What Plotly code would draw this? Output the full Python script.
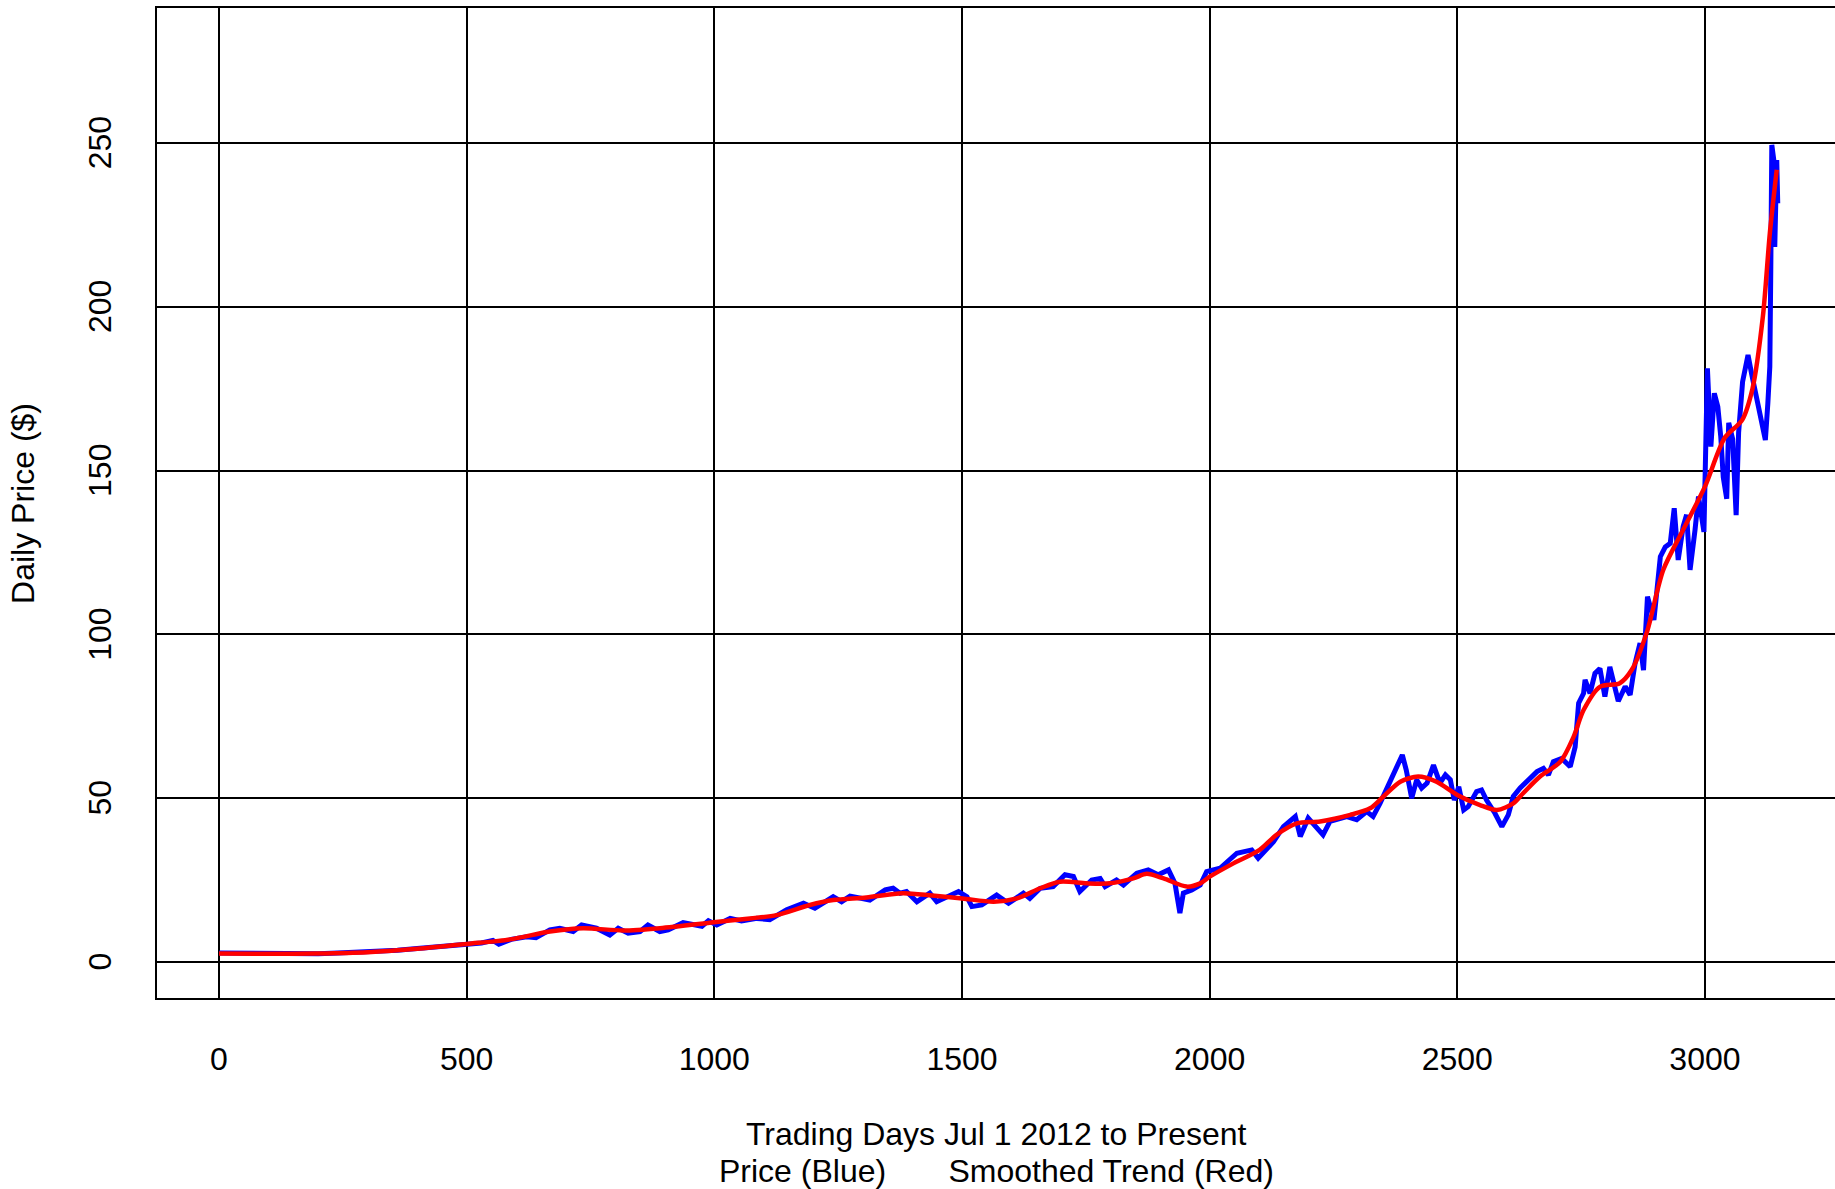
import plotly.graph_objects as go

# Daily closing price, trading day index since Jul 1 2012
price_day = [
    0, 40, 80, 120, 160, 200, 240, 280, 320, 360, 400, 440, 480, 500, 530, 553, 565, 590, 621, 640,
    668, 688, 715, 732, 762, 789, 806, 826, 850, 866, 890, 907, 937, 975, 988, 1005, 1032, 1055, 1086, 1112,
    1146, 1180, 1203, 1240, 1257, 1274, 1314, 1345, 1361, 1375, 1388, 1409, 1435, 1449, 1469, 1493, 1510, 1520, 1540, 1570,
    1594, 1624, 1637, 1658, 1684, 1708, 1725, 1738, 1762, 1779, 1789, 1812, 1826, 1853, 1876, 1896, 1917, 1930, 1940, 1947,
    1964, 1981, 1994, 2021, 2055, 2085, 2098, 2129, 2149, 2173, 2183, 2199, 2229, 2243, 2277, 2297, 2317, 2330, 2344, 2357,
    2374, 2389, 2397, 2408, 2418, 2428, 2439, 2452, 2465, 2476, 2486, 2494, 2503, 2513, 2522, 2539, 2549, 2559, 2576, 2590,
    2603, 2613, 2627, 2640, 2661, 2674, 2684, 2694, 2711, 2728, 2738, 2745, 2755, 2758, 2768, 2778, 2788, 2798, 2808, 2825,
    2839, 2849, 2859, 2869, 2876, 2884, 2897, 2910, 2920, 2930, 2938, 2946, 2956, 2963, 2970, 2980, 2987, 2998, 3005, 3012,
    3019, 3026, 3032, 3037, 3044, 3048, 3056, 3063, 3068, 3076, 3087, 3094, 3104, 3114, 3122, 3127, 3131, 3133, 3135, 3139,
    3141, 3145, 3147,
]
price_value = [
    2.7, 2.6, 2.5, 2.5, 2.5, 2.5, 2.7, 2.9, 3.2, 3.6, 4.1, 4.6, 5.1, 5.4, 5.8, 6.6, 5.4, 6.9, 7.7, 7.4,
    9.8, 10.3, 9.3, 11.3, 10.3, 8.2, 10.3, 8.8, 9.3, 11.3, 9.3, 9.8, 12.0, 10.9, 12.6, 11.3, 13.3, 12.5, 13.3, 12.9,
    15.9, 17.9, 16.4, 19.9, 18.4, 20.1, 18.9, 22.0, 22.5, 21.0, 21.5, 18.4, 21.0, 18.4, 19.9, 21.5, 19.9, 16.9, 17.4, 20.4,
    17.9, 21.0, 19.4, 22.5, 23.0, 26.6, 26.1, 21.5, 25.0, 25.5, 23.0, 25.0, 23.5, 27.1, 28.1, 26.6, 28.1, 24.0, 14.9, 21.0,
    22.0, 23.5, 27.6, 28.6, 33.2, 34.2, 31.7, 36.7, 41.3, 44.4, 38.3, 43.9, 38.8, 42.9, 44.4, 43.4, 45.9, 44.4, 48.4, 52.5,
    58.6, 63.2, 58.6, 50.0, 55.6, 53.1, 54.6, 60.1, 54.6, 57.1, 55.6, 49.4, 53.5, 46.4, 47.4, 52.0, 52.5, 49.4, 45.4, 41.3,
    44.9, 50.5, 53.1, 55.0, 58.1, 59.1, 57.1, 61.1, 62.1, 59.6, 65.7, 79.0, 82.0, 86.1, 82.0, 88.1, 89.6, 81.0, 90.1, 79.6,
    84.1, 81.5, 91.2, 97.3, 89.1, 111.5, 104.4, 123.7, 126.7, 127.8, 138.5, 122.7, 132.9, 136.5, 119.7, 131.9, 142.1, 131.3, 181.2, 157.3,
    173.6, 169.5, 160.3, 148.0, 141.4, 164.6, 159.6, 136.4, 161.6, 177.1, 185.3, 179.7, 172.6, 164.4, 159.3, 170.5, 181.7, 212.2, 249.4, 244.8,
    218.3, 244.8, 231.6,
]

# Smoothed trend of the price
trend_day = [
    0, 100, 200, 300, 400, 500, 588, 668, 735, 816, 890, 999, 1072, 1126, 1193, 1240, 1307, 1380, 1440, 1501,
    1564, 1611, 1658, 1698, 1752, 1799, 1846, 1873, 1907, 1954, 1981, 2001, 2048, 2101, 2135, 2176, 2223, 2284, 2324, 2351,
    2385, 2421, 2458, 2500, 2546, 2580, 2613, 2633, 2667, 2708, 2735, 2755, 2788, 2828, 2852, 2882, 2916, 2956, 3000, 3040,
    3075, 3096, 3117, 3131, 3145,
]
trend_value = [
    2.6, 2.5, 2.6, 3.0, 4.0, 5.5, 6.9, 9.3, 10.3, 9.6, 10.3, 12.1, 13.3, 14.3, 17.4, 18.9, 19.7, 21.0, 20.3, 19.4,
    18.4, 19.4, 22.5, 24.5, 24.0, 24.0, 25.5, 26.9, 25.5, 23.0, 24.0, 26.1, 30.1, 34.2, 38.8, 42.3, 42.9, 44.9, 46.9, 50.5,
    55.0, 56.6, 55.0, 51.0, 47.9, 46.4, 48.4, 51.5, 56.6, 61.1, 68.8, 76.9, 84.0, 85.1, 89.1, 100.3, 119.7, 131.9, 145.1, 160.0,
    165.4, 175.0, 197.0, 222.4, 241.8,
]

x_ticks = [0, 500, 1000, 1500, 2000, 2500, 3000]
y_ticks = [0, 50, 100, 150, 200, 250]

FONT = "Liberation Sans, Arial, Helvetica, sans-serif"

fig = go.Figure()
fig.add_trace(go.Scatter(
    x=price_day, y=price_value, mode="lines",
    line=dict(color="#0000FF", width=5), name="Price",
))
fig.add_trace(go.Scatter(
    x=trend_day, y=trend_value, mode="lines",
    line=dict(color="#FF0000", width=4.5, shape="spline", smoothing=0.8), name="Smoothed Trend",
))

fig.update_layout(
    width=1835, height=1189,
    margin=dict(l=157, r=0, t=8, b=191),
    paper_bgcolor="white", plot_bgcolor="white",
    showlegend=False,
    font=dict(family=FONT, size=32, color="black"),
    annotations=[
        dict(text="Trading Days Jul 1 2012 to Present", xref="paper", yref="paper",
             x=0.5, y=-0.1374, xanchor="center", yanchor="middle", showarrow=False,
             font=dict(family=FONT, size=32, color="black")),
        dict(text="Price (Blue)" + "\u00a0" * 7 + "Smoothed Trend (Red)", xref="paper", yref="paper",
             x=0.5, y=-0.1747, xanchor="center", yanchor="middle", showarrow=False,
             font=dict(family=FONT, size=32, color="black")),
        dict(text="Daily Price ($)", xref="paper", yref="paper",
             x=-0.0799, y=0.5, xanchor="center", yanchor="middle", textangle=-90, showarrow=False,
             font=dict(family=FONT, size=32, color="black")),
    ],
)

fig.update_xaxes(
    range=[-125.2, 3262.6], tickvals=x_ticks, ticktext=[str(v) for v in x_ticks],
    showgrid=True, gridcolor="black", gridwidth=1.5, zeroline=False,
    showline=True, mirror=True, linecolor="black", linewidth=1.5,
    ticks="", ticklabelstandoff=32, tickfont=dict(family=FONT, size=32, color="black"),
)
fig.update_yaxes(
    range=[-11.0, 291.2], tickvals=y_ticks, ticktext=[str(v) + "\u00a0" for v in y_ticks],
    showgrid=True, gridcolor="black", gridwidth=1.5, zeroline=False,
    showline=True, mirror=False, linecolor="black", linewidth=1.5,
    ticks="", tickangle=-90, ticklabelstandoff=31, tickfont=dict(family=FONT, size=32, color="black"),
)

fig.write_html("out.html")
